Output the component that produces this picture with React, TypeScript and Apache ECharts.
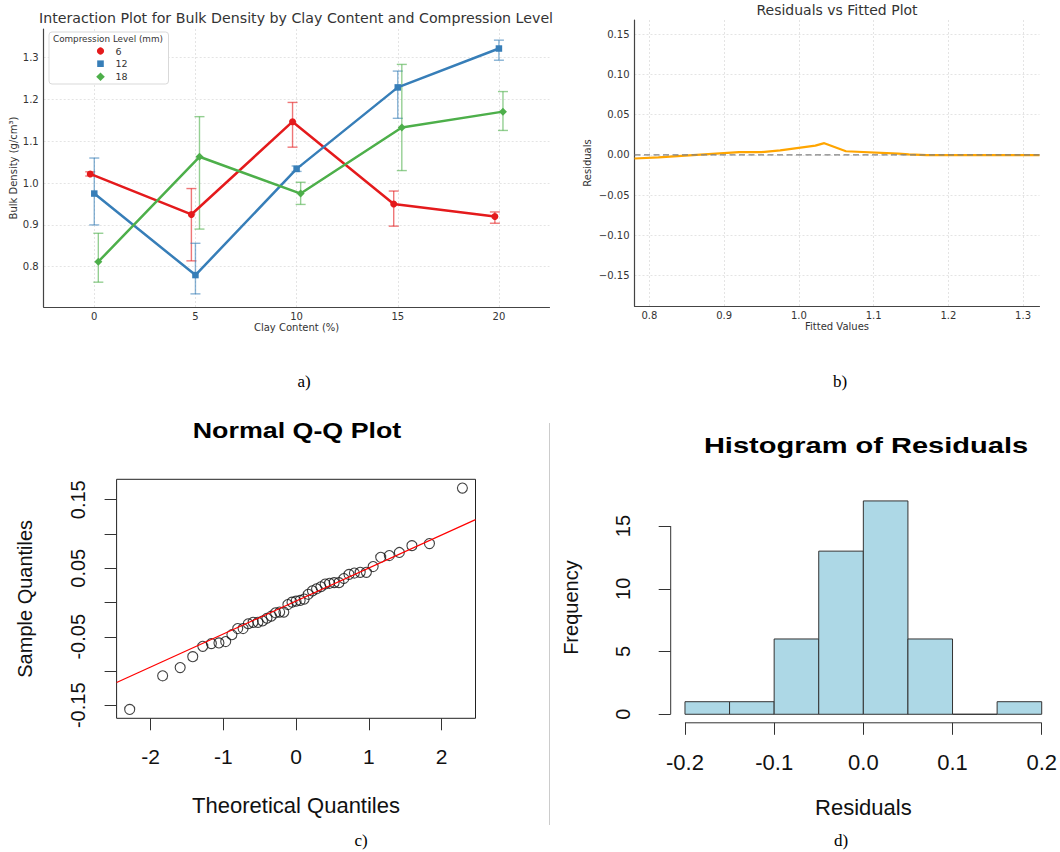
import React, { useEffect, useRef } from 'react';
import * as echarts from 'echarts';

// ---------- Panel a: interaction plot ----------
const clayLevels = ['0', '5', '10', '15', '20'];
const compressionLevels = ['6', '12', '18'];
const density6 = [1.022, 0.925, 1.147, 0.95, 0.92];
const density6Low = [1.017, 0.814, 1.086, 0.897, 0.904];
const density6High = [1.027, 0.987, 1.193, 0.981, 0.931];
const density12 = [0.975, 0.78, 1.034, 1.229, 1.322];
const density12Low = [0.9, 0.735, 1.028, 1.155, 1.294];
const density12High = [1.06, 0.856, 1.041, 1.268, 1.342];
const density18 = [0.812, 1.063, 0.975, 1.133, 1.171];
const density18Low = [0.763, 0.89, 0.949, 1.03, 1.126];
const density18High = [0.88, 1.159, 1.002, 1.284, 1.219];
const clayTickIdx = [0, 1, 2, 3, 4];
const densityTicks = [0.8, 0.9, 1.0, 1.1, 1.2, 1.3];

// ---------- Panel b: residuals vs fitted ----------
const fittedValues = [0.78, 0.812, 0.92, 0.925, 0.95, 0.975, 1.022, 1.034, 1.063, 1.133, 1.147, 1.171, 1.229, 1.322];
const fittedResiduals = [-0.0045, -0.003, 0.0035, 0.0035, 0.0033, 0.0055, 0.0115, 0.0145, 0.0045, 0.0015, 0.0006, -0.0003, -0.0004, -0.0004];
const fittedTicks = [0.8, 0.9, 1.0, 1.1, 1.2, 1.3];
const residualTicks = [-0.15, -0.1, -0.05, 0, 0.05, 0.1, 0.15];

// ---------- Panel c: normal Q-Q ----------
const theoreticalQuantiles = [
  -2.287, -1.834, -1.593, -1.42, -1.282, -1.164, -1.06, -0.967, -0.882, -0.802, -0.728, -0.657, -0.59, -0.524, -0.461,
  -0.4, -0.341, -0.282, -0.225, -0.168, -0.112, -0.056, 0, 0.056, 0.112, 0.168, 0.225, 0.282, 0.341, 0.4,
  0.461, 0.524, 0.59, 0.657, 0.728, 0.802, 0.882, 0.967, 1.06, 1.164, 1.282, 1.42, 1.593, 1.834, 2.287,
];
const sampleQuantiles = [
  -0.156, -0.107, -0.095, -0.079, -0.064, -0.06, -0.059, -0.057, -0.047, -0.038, -0.038, -0.031, -0.029, -0.029, -0.027,
  -0.023, -0.02, -0.015, -0.014, -0.014, -0.003, 0.0005, 0.002, 0.003, 0.005, 0.012, 0.017, 0.02, 0.023, 0.027,
  0.028, 0.029, 0.029, 0.035, 0.041, 0.043, 0.044, 0.044, 0.0525, 0.066, 0.0685, 0.073, 0.083, 0.086, 0.167,
];
const qqLineX = [-2.467, 2.467];
const qqLineY = [-0.1167, 0.121];
const qqXTicks = [-2, -1, 0, 1, 2];
const qqYTicks = [-0.15, -0.1, -0.05, 0, 0.05, 0.1, 0.15];
const qqYLabels = [-0.15, -0.05, 0.05, 0.15];

// ---------- Panel d: histogram ----------
const binStarts = [-0.2, -0.15, -0.1, -0.05, 0, 0.05, 0.1, 0.15];
const binEnds = [-0.15, -0.1, -0.05, 0, 0.05, 0.1, 0.15, 0.2];
const binCounts = [1, 1, 6, 13, 17, 6, 0, 1];
const histXTicks = [-0.2, -0.1, 0, 0.1, 0.2];
const histYTicks = [0, 5, 10, 15];

// ---------- styling / layout ----------
const PY_FONT = "'DejaVu Sans', sans-serif";
const R_FONT = "'Liberation Sans', Arial, sans-serif";
const SERIF = "'Liberation Serif', 'Times New Roman', serif";
const TXT = '#333333';
const SET1 = ['#e41a1c', '#377eb8', '#4daf4a'];
const SYMBOLS = ['circle', 'rect', 'diamond'];
const SYMBOL_SIZES = [7, 6.5, 8];
const DODGE = [-0.04, 0, 0.04];

const A_X = [-0.5, 4.5];
const A_Y = [0.7036, 1.3687];
const B_X = [0.78, 1.322];
const B_Y = [-0.1876, 0.1674];
const C_X = [-2.467, 2.467];
const C_Y = [-0.169, 0.1798];
const D_X = [-0.216, 0.216];
const D_Y = [-0.68, 17.68];

const gridLine = { show: true, lineStyle: { color: '#dddddd', type: [2, 2] as any, width: 0.8 } };
const pySpine = { show: true, onZero: false, lineStyle: { color: '#444444', width: 1.2 } };

function errorBarRenderer(color: string) {
  return (params: any, api: any) => {
    const x = api.value(0);
    const lo = api.coord([x, api.value(1)]);
    const hi = api.coord([x, api.value(2)]);
    const cap = 5;
    const style = { stroke: color, lineWidth: 1.4, opacity: 0.6 };
    return {
      type: 'group',
      children: [
        { type: 'line', shape: { x1: lo[0], y1: lo[1], x2: hi[0], y2: hi[1] }, style },
        { type: 'line', shape: { x1: lo[0] - cap, y1: lo[1], x2: lo[0] + cap, y2: lo[1] }, style },
        { type: 'line', shape: { x1: hi[0] - cap, y1: hi[1], x2: hi[0] + cap, y2: hi[1] }, style },
      ],
    };
  };
}

function legendGraphics(): any[] {
  const cx = 100.5;
  const rows = [51, 63.7, 76.7];
  const out: any[] = [
    { type: 'rect', z: 20, shape: { x: 49, y: 32, width: 119.5, height: 52, r: 3 }, style: { fill: '#ffffff', stroke: '#d9d9d9', lineWidth: 1 } },
    { type: 'text', z: 21, x: 53, y: 38.7, style: { text: 'Compression Level (mm)', fontSize: 8.8, fontFamily: PY_FONT, fill: TXT, verticalAlign: 'middle', textVerticalAlign: 'middle' } },
  ];
  compressionLevels.forEach((name, k) => {
    const cy = rows[k];
    const color = SET1[k];
    if (SYMBOLS[k] === 'circle') {
      out.push({ type: 'circle', z: 21, shape: { cx, cy, r: 3.6 }, style: { fill: color } });
    } else if (SYMBOLS[k] === 'rect') {
      out.push({ type: 'rect', z: 21, shape: { x: cx - 3.3, y: cy - 3.3, width: 6.6, height: 6.6 }, style: { fill: color } });
    } else {
      out.push({ type: 'polygon', z: 21, shape: { points: [[cx, cy - 4.3], [cx + 4.3, cy], [cx, cy + 4.3], [cx - 4.3, cy]] }, style: { fill: color } });
    }
    out.push({ type: 'text', z: 21, x: 115.5, y: cy, style: { text: name, fontSize: 9.5, fontFamily: PY_FONT, fill: TXT, verticalAlign: 'middle', textVerticalAlign: 'middle' } });
  });
  return out;
}

function buildOption(): any {
  const groups = [
    { v: density6, lo: density6Low, hi: density6High },
    { v: density12, lo: density12Low, hi: density12High },
    { v: density18, lo: density18Low, hi: density18High },
  ];

  const series: any[] = [];
  groups.forEach((g, k) => {
    series.push({
      name: 'err' + compressionLevels[k],
      type: 'custom',
      xAxisIndex: 0,
      yAxisIndex: 0,
      z: 2,
      renderItem: errorBarRenderer(SET1[k]),
      data: g.v.map((_, i) => [clayTickIdx[i] + DODGE[k], g.lo[i], g.hi[i]]),
      encode: { x: 0, y: [1, 2] },
      silent: true,
    });
  });
  groups.forEach((g, k) => {
    series.push({
      name: compressionLevels[k],
      type: 'line',
      xAxisIndex: 0,
      yAxisIndex: 0,
      z: 3 + k,
      data: g.v.map((val, i) => [clayTickIdx[i] + DODGE[k], val]),
      symbol: SYMBOLS[k],
      symbolSize: SYMBOL_SIZES[k],
      showSymbol: true,
      lineStyle: { color: SET1[k], width: 2.5 },
      itemStyle: { color: SET1[k] },
      silent: true,
    });
  });

  // panel b
  series.push({
    name: 'residual line',
    type: 'line',
    xAxisIndex: 1,
    yAxisIndex: 1,
    data: fittedValues.map((x, i) => [x, fittedResiduals[i]]),
    symbol: 'none',
    lineStyle: { color: '#ffa500', width: 2.2 },
    z: 3,
    silent: true,
  });
  series.push({
    name: 'zero line',
    type: 'line',
    xAxisIndex: 1,
    yAxisIndex: 1,
    data: [[B_X[0], 0], [B_X[1], 0]],
    symbol: 'none',
    lineStyle: { color: '#808080', width: 1.2, type: [6, 3.5] },
    z: 4,
    silent: true,
  });

  // panel c
  series.push({
    name: 'qq points',
    type: 'scatter',
    xAxisIndex: 2,
    yAxisIndex: 2,
    data: theoreticalQuantiles.map((x, i) => [x, sampleQuantiles[i]]),
    symbol: 'circle',
    symbolSize: 10,
    itemStyle: { color: 'rgba(0,0,0,0)', borderColor: '#111111', borderWidth: 1.1 },
    z: 2,
    silent: true,
  });
  series.push({
    name: 'qq line',
    type: 'line',
    xAxisIndex: 2,
    yAxisIndex: 2,
    data: qqLineX.map((x, i) => [x, qqLineY[i]]),
    symbol: 'none',
    lineStyle: { color: '#ff0000', width: 1.2 },
    z: 3,
    silent: true,
  });

  // panel d
  series.push({
    name: 'histogram',
    type: 'custom',
    xAxisIndex: 3,
    yAxisIndex: 3,
    data: binStarts.map((s, i) => [s, binEnds[i], binCounts[i]]),
    encode: { x: [0, 1], y: 2 },
    renderItem: (params: any, api: any) => {
      const p0 = api.coord([api.value(0), 0]);
      const p1 = api.coord([api.value(1), api.value(2)]);
      return {
        type: 'rect',
        shape: { x: p0[0], y: p1[1], width: p1[0] - p0[0], height: p0[1] - p1[1] },
        style: { fill: '#add8e6', stroke: '#333333', lineWidth: 1 },
      };
    },
    silent: true,
  });
  series.push({
    name: 'hist x axis line',
    type: 'line',
    xAxisIndex: 3,
    yAxisIndex: 3,
    data: [[histXTicks[0], D_Y[0]], [histXTicks[histXTicks.length - 1], D_Y[0]]],
    symbol: 'none',
    clip: false,
    lineStyle: { color: '#333333', width: 1 },
    silent: true,
  });
  series.push({
    name: 'hist y axis line',
    type: 'line',
    xAxisIndex: 3,
    yAxisIndex: 3,
    data: [[D_X[0], histYTicks[0]], [D_X[0], histYTicks[histYTicks.length - 1]]],
    symbol: 'none',
    clip: false,
    lineStyle: { color: '#333333', width: 1 },
    silent: true,
  });

  const pyLabel = { fontSize: 10, color: TXT, fontFamily: PY_FONT };
  const rLabel = { fontSize: 21, color: '#111111', fontFamily: R_FONT };
  const rLabelRot = { fontSize: 20, color: '#111111', fontFamily: R_FONT };
  const rTick = { show: true, length: 12, inside: false, lineStyle: { color: '#333333', width: 1 } };
  const noLine = { show: false, onZero: false };

  const minus = (v: number, d: number) => (v < -1e-9 ? '\u2212' : '') + Math.abs(v).toFixed(d);
  const centered = { align: 'center', textAlign: 'center', verticalAlign: 'middle', textVerticalAlign: 'middle' };

  return {
    animation: false,
    backgroundColor: '#ffffff',
    grid: [
      { left: 43.7, top: 29, width: 505.8, height: 278 },
      { left: 634.5, top: 20, width: 405, height: 286 },
      { left: 116.6, top: 479.3, width: 358.9, height: 239, show: true, borderColor: '#222222', borderWidth: 1, backgroundColor: 'transparent' },
      { left: 670.7, top: 492.4, width: 386.1, height: 230.4 },
    ],
    xAxis: [
      {
        type: 'value', gridIndex: 0, min: A_X[0], max: A_X[1],
        axisLine: pySpine,
        axisTick: { show: false, customValues: clayTickIdx },
        axisLabel: { ...pyLabel, margin: 4, customValues: clayTickIdx, formatter: (v: number) => clayLevels[Math.round(v)] },
        splitLine: gridLine,
        name: 'Clay Content (%)', nameLocation: 'middle', nameGap: 15,
        nameTextStyle: { ...pyLabel },
      },
      {
        type: 'value', gridIndex: 1, min: B_X[0], max: B_X[1],
        axisLine: pySpine,
        axisTick: { show: false, customValues: fittedTicks },
        axisLabel: { ...pyLabel, margin: 4, customValues: fittedTicks, formatter: (v: number) => v.toFixed(1) },
        splitLine: gridLine,
        name: 'Fitted Values', nameLocation: 'middle', nameGap: 15,
        nameTextStyle: { ...pyLabel },
      },
      {
        type: 'value', gridIndex: 2, min: C_X[0], max: C_X[1],
        axisLine: noLine,
        axisTick: { ...rTick, customValues: qqXTicks },
        axisLabel: { ...rLabel, margin: 28, customValues: qqXTicks, formatter: (v: number) => String(v) },
        splitLine: { show: false },
        name: 'Theoretical Quantiles', nameLocation: 'middle', nameGap: 76,
        nameTextStyle: { fontSize: 22, color: '#111111', fontFamily: R_FONT },
      },
      {
        type: 'value', gridIndex: 3, min: D_X[0], max: D_X[1],
        axisLine: noLine,
        axisTick: { ...rTick, customValues: histXTicks },
        axisLabel: { ...rLabel, fontSize: 22, margin: 29, customValues: histXTicks, formatter: (v: number) => v.toFixed(1) },
        splitLine: { show: false },
        name: 'Residuals', nameLocation: 'middle', nameGap: 74,
        nameTextStyle: { fontSize: 22, color: '#111111', fontFamily: R_FONT },
      },
    ],
    yAxis: [
      {
        type: 'value', gridIndex: 0, min: A_Y[0], max: A_Y[1],
        axisLine: pySpine,
        axisTick: { show: false, customValues: densityTicks },
        axisLabel: { ...pyLabel, margin: 5, customValues: densityTicks, formatter: (v: number) => v.toFixed(1) },
        splitLine: gridLine,
        name: 'Bulk Density (g/cm³)', nameLocation: 'middle', nameGap: 25,
        nameTextStyle: { ...pyLabel },
      },
      {
        type: 'value', gridIndex: 1, min: B_Y[0], max: B_Y[1],
        axisLine: pySpine,
        axisTick: { show: false, customValues: residualTicks },
        axisLabel: { ...pyLabel, margin: 5, customValues: residualTicks, formatter: (v: number) => minus(v, 2) },
        splitLine: gridLine,
        name: 'Residuals', nameLocation: 'middle', nameGap: 42,
        nameTextStyle: { ...pyLabel },
      },
      {
        type: 'value', gridIndex: 2, min: C_Y[0], max: C_Y[1],
        axisLine: noLine,
        axisTick: { ...rTick, customValues: qqYTicks },
        axisLabel: { ...rLabelRot, rotate: 90, margin: 29, customValues: qqYLabels, formatter: (v: number) => v.toFixed(2) },
        splitLine: { show: false },
        name: 'Sample Quantiles', nameLocation: 'middle', nameGap: 82,
        nameTextStyle: { fontSize: 20, color: '#111111', fontFamily: R_FONT },
      },
      {
        type: 'value', gridIndex: 3, min: D_Y[0], max: D_Y[1],
        axisLine: noLine,
        axisTick: { ...rTick, customValues: histYTicks },
        axisLabel: { ...rLabelRot, rotate: 90, margin: 38, customValues: histYTicks, formatter: (v: number) => String(v) },
        splitLine: { show: false },
        name: 'Frequency', nameLocation: 'middle', nameGap: 90,
        nameTextStyle: { fontSize: 20, color: '#111111', fontFamily: R_FONT },
      },
    ],
    graphic: [
      ...legendGraphics(),
      { type: 'text', x: 296, y: 17.5, style: { text: 'Interaction Plot for Bulk Density by Clay Content and Compression Level', fontSize: 14.2, fontFamily: PY_FONT, fill: TXT, ...centered } },
      { type: 'text', x: 837, y: 10, style: { text: 'Residuals vs Fitted Plot', fontSize: 14, fontFamily: PY_FONT, fill: TXT, ...centered } },
      { type: 'text', x: 297, y: 430, scaleX: 1.22, style: { text: 'Normal Q-Q Plot', fontSize: 22, fontWeight: 'bold', fontFamily: R_FONT, fill: '#000000', ...centered } },
      { type: 'text', x: 866, y: 445, scaleX: 1.32, style: { text: 'Histogram of Residuals', fontSize: 22, fontWeight: 'bold', fontFamily: R_FONT, fill: '#000000', ...centered } },
      { type: 'line', shape: { x1: 549.5, y1: 423, x2: 549.5, y2: 825 }, style: { stroke: '#cccccc', lineWidth: 1 } },
      { type: 'text', x: 304, y: 381, style: { text: 'a)', fontSize: 17, fontFamily: SERIF, fill: '#000000', ...centered } },
      { type: 'text', x: 840, y: 381, style: { text: 'b)', fontSize: 17, fontFamily: SERIF, fill: '#000000', ...centered } },
      { type: 'text', x: 361, y: 840, style: { text: 'c)', fontSize: 17, fontFamily: SERIF, fill: '#000000', ...centered } },
      { type: 'text', x: 841, y: 840, style: { text: 'd)', fontSize: 17, fontFamily: SERIF, fill: '#000000', ...centered } },
    ],
    series,
  };
}

export default function App() {
  const ref = useRef<HTMLDivElement>(null);
  useEffect(() => {
    if (!ref.current) return;
    const chart = echarts.init(ref.current, undefined, { renderer: 'svg' });
    chart.setOption(buildOption());
    return () => chart.dispose();
  }, []);
  return (
    <div
      ref={ref}
      style={{ position: 'absolute', left: 0, top: 0, width: 1060, height: 852, background: '#ffffff' }}
    />
  );
}
